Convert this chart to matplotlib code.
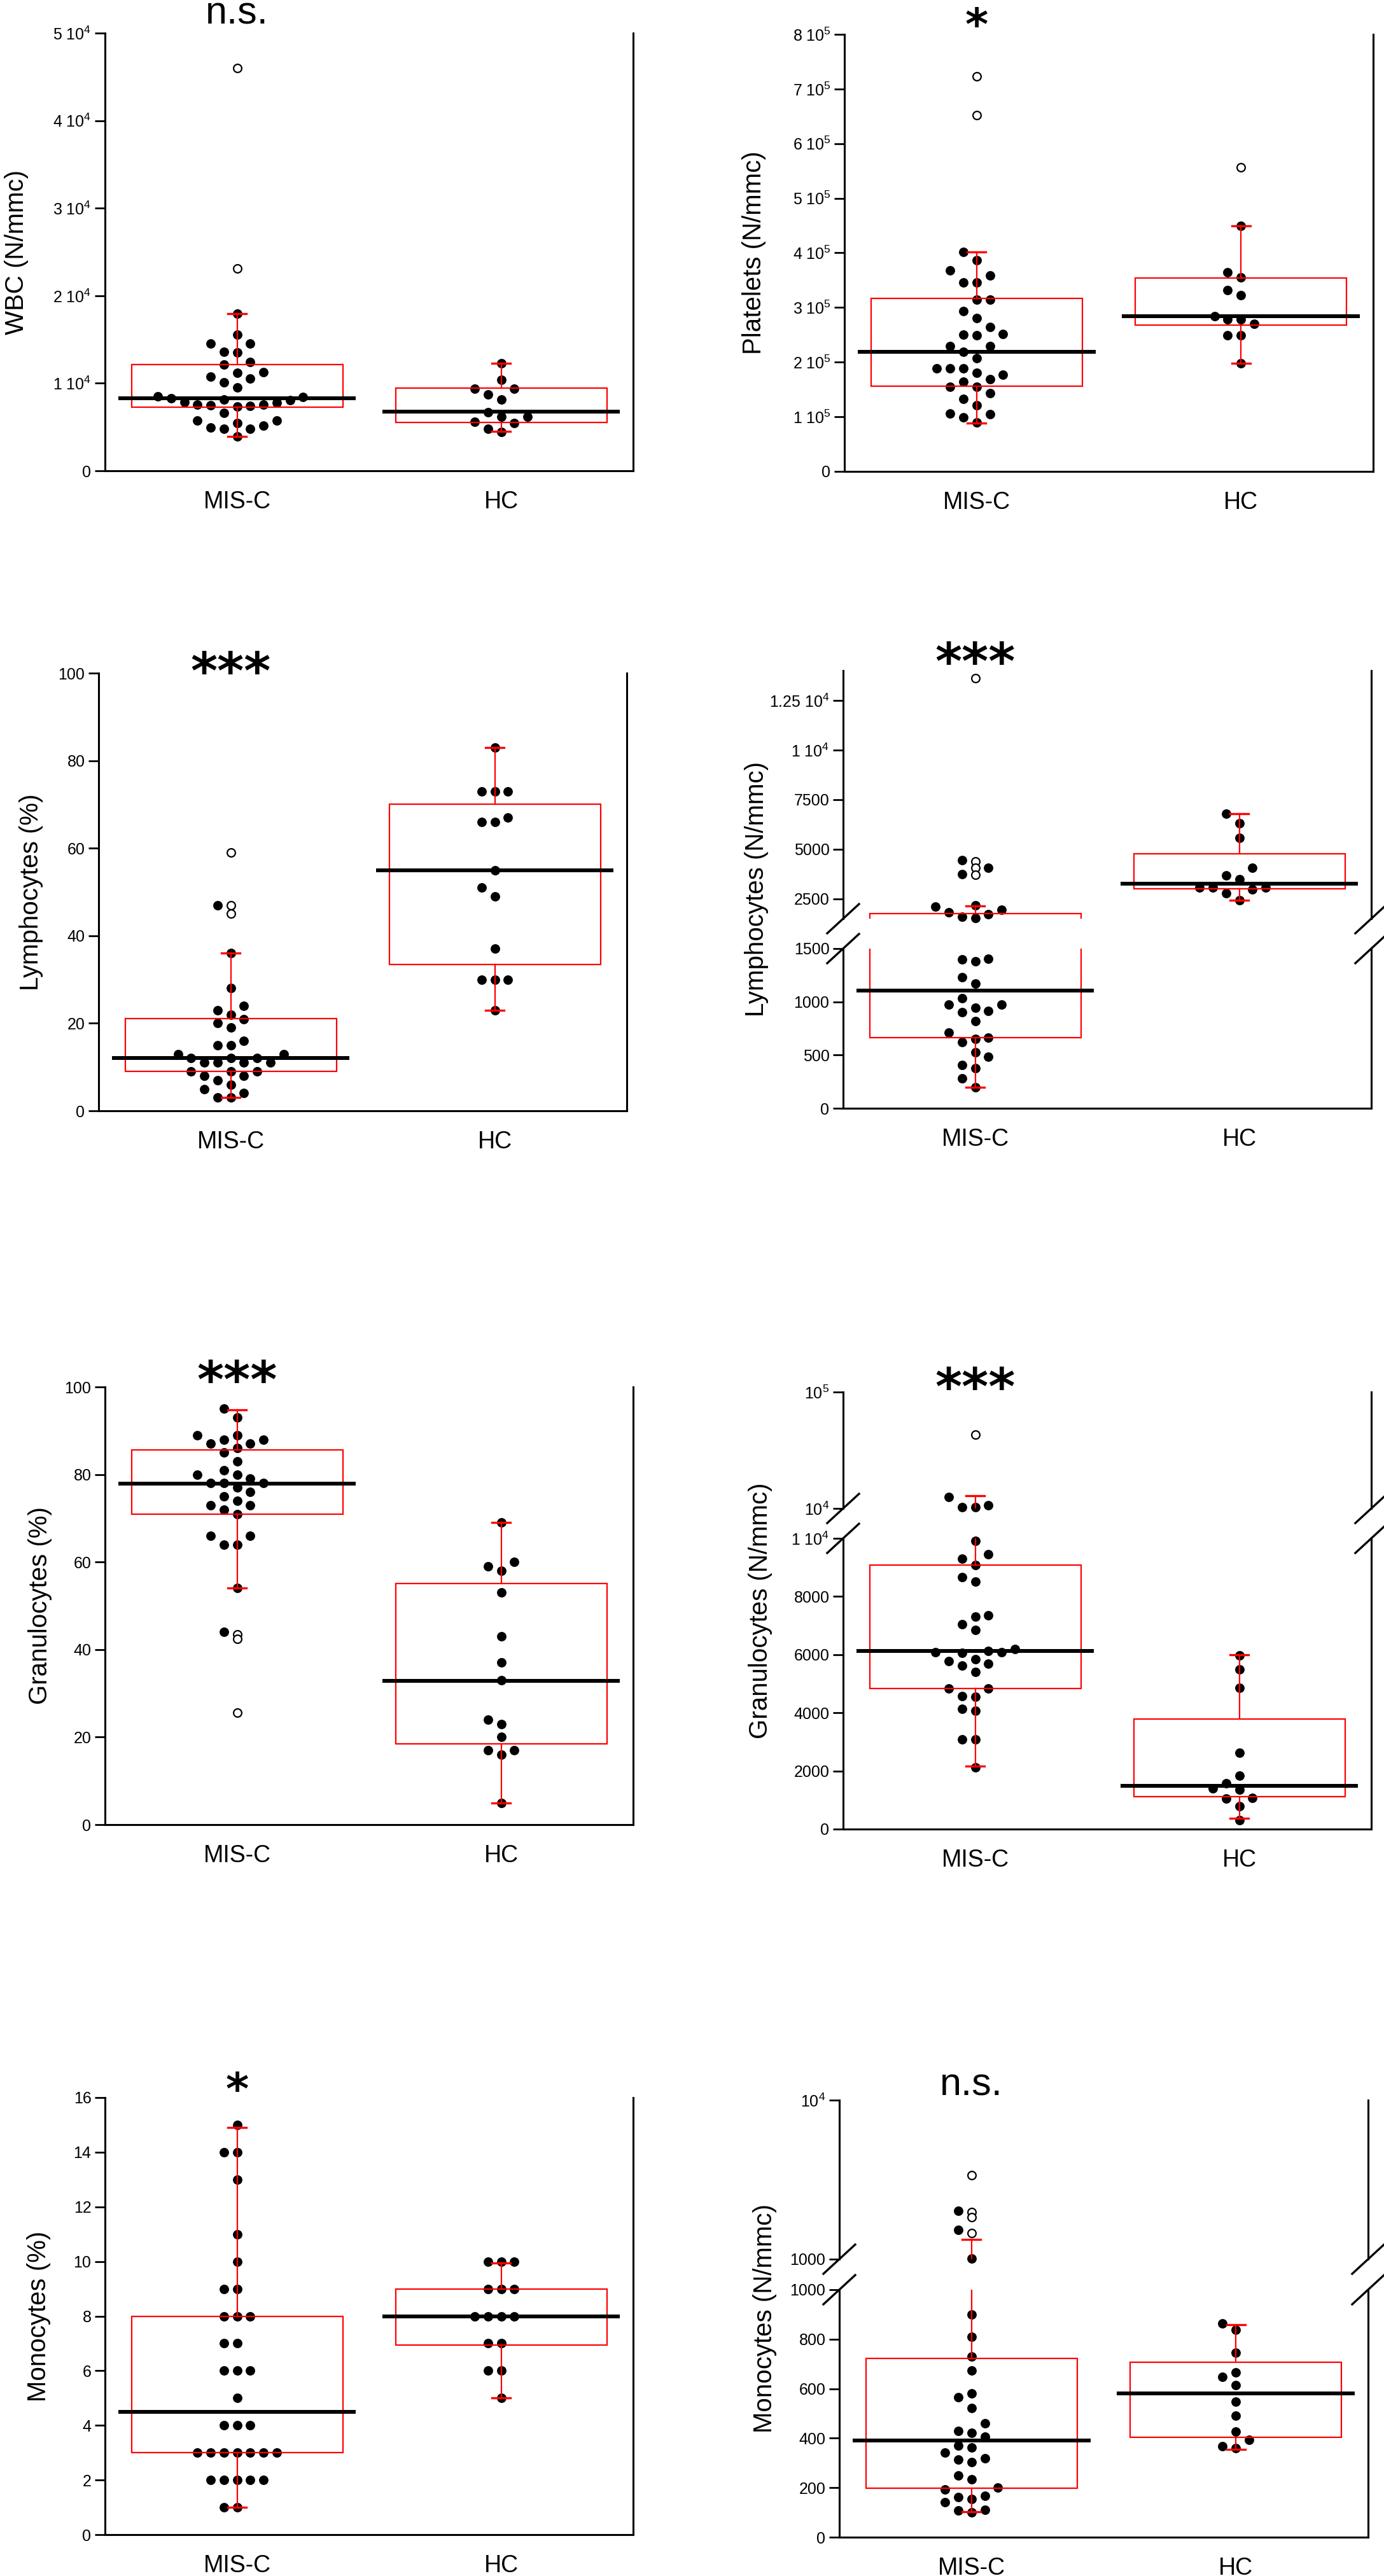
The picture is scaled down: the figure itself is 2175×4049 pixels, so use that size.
import numpy as np
import matplotlib
matplotlib.use("Agg")
import matplotlib.pyplot as plt
from matplotlib.patches import Rectangle
from matplotlib.lines import Line2D
from matplotlib.ticker import NullLocator

plt.rcParams['font.family'] = ['Liberation Sans', 'DejaVu Sans']
plt.rcParams['mathtext.default'] = 'regular'

# ---- data -------------------------------------------------------------
groups = ["MIS-C", "HC"]

# box stats: (q1, median, q3, whisker low, whisker high)
wbc_misc = [17950, 15520, 14550, 14550, 13620, 13500, 12430, 12130, 11190, 11300,
            10560, 10750, 10070, 9510, 8510, 8320, 8060, 7800, 7575, 7430, 7310,
            7500, 7575, 7840, 8170, 8400, 6640, 5750, 5450, 4960, 4780, 3960,
            4780, 5150, 5710]
wbc_misc_out = [46000, 23100]
wbc_hc = [12310, 10370, 9370, 9370, 8690, 8130, 6720, 6190, 6160, 5630, 5450,
          4780, 4400]
wbc_hc_out = []
wbc_misc_box = (7240, 8320, 12130, 3960, 17950)
wbc_hc_box = (5520, 6750, 9440, 4500, 12300)

plt_misc = [401200, 386900, 367800, 358200, 346300, 346300, 314600, 314600, 293700,
            280600, 263900, 250700, 249600, 251900, 229900, 229900, 219100, 207800,
            188100, 188100, 188100, 180300, 177300, 169000, 155200, 155200, 164200,
            143300, 133100, 120600, 105700, 104500, 99100, 89600]
plt_misc_out = [723600, 652000]
plt_hc = [449000, 364200, 355200, 331300, 322400, 283600, 278800, 278800, 270400,
          249600, 249600, 198200]
plt_hc_out = [557000]
plt_misc_box = (156400, 219100, 316400, 89000, 401200)
plt_hc_box = (268000, 283600, 354000, 198000, 449000)

lyp_misc = [47, 36, 28, 24, 23, 22, 21, 20, 19, 16, 15, 15, 13, 13, 12, 12, 12, 11,
            11, 11, 11, 9, 9, 9, 8, 8, 7, 6, 5, 4, 3, 3]
lyp_misc_out = [59, 47, 45]
lyp_hc = [83, 73, 73, 73, 67, 66, 66, 55, 51, 49, 37, 30, 30, 30, 23]
lyp_hc_out = []
lyp_misc_box = (9, 12, 21.1, 3, 36)
lyp_hc_box = (33.5, 55, 70, 23, 83)

lyn_misc = [4444, 3759, 4074, 2093, 1944, 2185, 1722, 1537, 1593, 1815, 1404, 1397,
            1380, 1232, 1173, 1036, 974, 912, 905, 946, 974, 819, 709, 654, 664,
            623, 526, 482, 406, 379, 279, 200]
lyn_misc_out = [13600, 4400, 4050, 3700]
lyn_hc = [6778, 6296, 5556, 4074, 3481, 3667, 3056, 3056, 3056, 2963, 2778, 2426]
lyn_hc_out = []
lyn_misc_box = (664, 1105, 1759, 200, 2150)
lyn_hc_box = (3019, 3259, 4778, 2426, 6778)

grp_misc = [95, 93, 89, 89, 88, 88, 87, 87, 86, 85, 83, 81, 80, 80, 79, 78, 78, 78,
            77, 76, 75, 74, 73, 73, 72, 71, 66, 66, 64, 64, 54, 44]
grp_misc_out = [43.5, 42.5, 25.6]
grp_hc = [69, 60, 59, 58, 53, 43, 37, 33, 24, 23, 20, 17, 17, 16, 5]
grp_hc_out = []
grp_misc_box = (70.9, 77.9, 85.6, 54, 94.7)
grp_hc_box = (18.4, 32.9, 55.1, 5, 69)

grn_misc = [12620, 10675, 10295, 10295, 9921, 9453, 9289, 9074, 8657, 8505, 7305,
            7356, 7052, 6850, 6193, 6130, 6066, 6092, 6092, 5839, 5687, 5624, 5776,
            5396, 4840, 4840, 4550, 4575, 4069, 4133, 3096, 3096, 2123]
grn_misc_out = [43050]
grn_hc = [5977, 5497, 4866, 2629, 1833, 1580, 1365, 1390, 1049, 1074, 796, 316]
grn_hc_out = []
grn_misc_box = (4840, 6116, 9074, 2174, 12800)
grn_hc_box = (1112, 1491, 3791, 380, 6000)

mop_misc = [15, 14, 14, 13, 11, 10, 9, 9, 8, 8, 8, 7, 7, 6, 6, 6, 5, 4, 4, 4,
            3, 3, 3, 3, 3, 3, 3, 2, 2, 2, 2, 2, 1, 1]
mop_misc_out = []
mop_hc = [10, 10, 10, 9, 9, 9, 8, 8, 8, 8, 7, 7, 6, 6, 5]
mop_hc_out = []
mop_misc_box = (3, 4.5, 8, 1, 14.9)
mop_hc_box = (6.95, 8, 9, 5, 9.95)

mon_misc = [2015, 1528, 1010, 901, 810, 729, 674, 582, 566, 523, 459, 422, 430, 407,
            370, 363, 341, 319, 304, 314, 249, 233, 200, 193, 163, 141, 153, 167,
            108, 101, 111]
mon_misc_out = [3388, 1982, 1832, 1465]
mon_hc = [864, 837, 745, 667, 649, 615, 548, 492, 427, 393, 367, 360]
mon_hc_out = []
mon_misc_box = (197, 390, 723, 104, 1331)
mon_hc_box = (403, 582, 707, 356, 859)

# ---- drawing helpers ---------------------------------------------------
W, H = 2175, 4049
RED = '#ff0000'
fig = plt.figure(figsize=(W / 100, H / 100), dpi=100)


def add_ax(left, right, top, bottom):
    return fig.add_axes([left / W, 1 - bottom / H, (right - left) / W, (bottom - top) / H])


def style(ax, bottom=True):
    ax.set_xlim(0.5, 2.5)
    ax.spines['top'].set_visible(False)
    for s in ('left', 'right', 'bottom'):
        ax.spines[s].set_linewidth(2.2)
    if not bottom:
        ax.spines['bottom'].set_visible(False)
    ax.tick_params(axis='y', direction='out', length=11.5, width=2, labelsize=18, pad=4)
    ax.tick_params(axis='x', length=0, labelsize=27, pad=22)
    if bottom:
        ax.set_xticks([1, 2])
        ax.set_xticklabels(groups)
    else:
        ax.set_xticks([])


def swarm(filled, opened, ypix, min_dy=20):
    # outliers sit on the centre line, filled dots take the nearest free column
    placed = [(0, ypix(v)) for v in opened]
    cols = [0] * len(filled)
    for i in np.argsort(filled, kind='stable'):
        y = ypix(filled[i])
        k = 0
        while True:
            c = ((k + 1) // 2) * (-1 if k % 2 else 1)
            if all(abs(y - py) >= min_dy for pc, py in placed if pc == c):
                break
            k += 1
        placed.append((c, y))
        cols[i] = c
    return cols


def draw_group(axes, which, x0, filled, opened, box):
    q1, med, q3, lo, hi = box
    for ax in axes:
        ax.add_patch(Rectangle((x0 - 0.4, q1), 0.8, q3 - q1, fill=False,
                               ec=RED, lw=1.6, zorder=4))
        ax.plot([x0, x0], [q3, hi], color=RED, lw=1.6, zorder=4)
        ax.plot([x0, x0], [lo, q1], color=RED, lw=1.6, zorder=4)
        for v in (lo, hi):
            ax.plot([x0 - 0.035, x0 + 0.035], [v, v], color=RED, lw=2.4, zorder=4)
        ax.plot([x0 - 0.45, x0 + 0.45], [med, med], color='k', lw=4.3,
                zorder=5, solid_capstyle='butt')
    ypix = lambda v: which(v).transData.transform((x0, v))[1]
    cols = swarm(filled, opened, ypix)
    for v, c in zip(filled, cols):
        which(v).scatter(x0 + c * 0.05, v, s=115, color='k', lw=0, zorder=3,
                         clip_on=False)
    for v in opened:
        which(v).scatter(x0, v, s=85, facecolor='white', edgecolor='k', lw=1.6,
                         zorder=3, clip_on=False)


def sci(m, e):
    return f"{m} $10^{{{e}}}$"


def ylabel(text, cx, top, bottom):
    fig.text(cx / W, 1 - (top + bottom) / 2 / H, text, rotation=90,
             ha='center', va='center', fontsize=29)


def signif(text, left, right, ypx, star):
    xc = left + (right - left) / 4
    if star:
        size = 58 if len(text) > 1 else 50
        base = ypx + 0.555 * size / 72 * 100
        fig.text(xc / W, 1 - base / H, text, ha='center', va='baseline',
                 fontsize=size, fontweight='bold', family='DejaVu Sans')
    else:
        fig.text(xc / W, 1 - ypx / H, text, ha='center', va='baseline', fontsize=44)


def break_marks(left, right, hi_bottom, lo_top):
    for x in (left, right):
        for y in (hi_bottom, lo_top):
            fig.add_artist(Line2D([(x - 25) / W, (x + 25) / W],
                                  [1 - (y + 23) / H, 1 - (y - 23) / H],
                                  color='k', lw=2.4, transform=fig.transFigure))


def simple_panel(pos, ylim, ticks, labels, data, ytext, lab_x, sig, sig_y, star):
    left, right, top, bottom = pos
    ax = add_ax(*pos)
    style(ax)
    ax.set_ylim(*ylim)
    ax.set_yticks(ticks)
    ax.set_yticklabels(labels)
    which = lambda v: ax
    for x0, (f, o, b) in zip((1, 2), data):
        draw_group([ax], which, x0, f, o, b)
    ylabel(ytext, lab_x, top, bottom)
    signif(sig, left, right, sig_y, star)


def broken_panel(pos, hi_bottom, lo_top, split, lo_lim, lo_ticks, lo_labels,
                 hi_lim, hi_ticks, hi_labels, hi_log, data, ytext, lab_x,
                 sig, sig_y, star):
    left, right, top, bottom = pos
    ax_hi = add_ax(left, right, top, hi_bottom)
    ax_lo = add_ax(left, right, lo_top, bottom)
    style(ax_lo)
    style(ax_hi, bottom=False)
    if hi_log:
        ax_hi.set_yscale('log')
    ax_hi.set_ylim(*hi_lim)
    ax_lo.set_ylim(*lo_lim)
    ax_hi.set_yticks(hi_ticks)
    ax_hi.set_yticklabels(hi_labels)
    ax_hi.yaxis.set_minor_locator(NullLocator())
    ax_lo.set_yticks(lo_ticks)
    ax_lo.set_yticklabels(lo_labels)
    which = lambda v: ax_hi if v > split else ax_lo
    for x0, (f, o, b) in zip((1, 2), data):
        draw_group([ax_lo, ax_hi], which, x0, f, o, b)
    break_marks(left, right, hi_bottom, lo_top)
    ylabel(ytext, lab_x, top, bottom)
    signif(sig, left, right, sig_y, star)


# ---- panels ------------------------------------------------------------
simple_panel((165, 995, 52, 740), (0, 50000), np.arange(0, 50001, 10000),
             ["0"] + [sci(i, 4) for i in range(1, 6)],
             [(wbc_misc, wbc_misc_out, wbc_misc_box), (wbc_hc, wbc_hc_out, wbc_hc_box)],
             "WBC (N/mmc)", 26, "n.s.", 38, False)

simple_panel((1327, 2158, 54, 741), (0, 800000), np.arange(0, 800001, 100000),
             ["0"] + [sci(i, 5) for i in range(1, 9)],
             [(plt_misc, plt_misc_out, plt_misc_box), (plt_hc, plt_hc_out, plt_hc_box)],
             "Platelets (N/mmc)", 1185, "*", 23, True)

simple_panel((155, 985, 1058, 1746), (0, 100), np.arange(0, 101, 20),
             [str(v) for v in range(0, 101, 20)],
             [(lyp_misc, lyp_misc_out, lyp_misc_box), (lyp_hc, lyp_hc_out, lyp_hc_box)],
             "Lymphocytes (%)", 49, "***", 1037, True)

broken_panel((1325, 2155, 1054, 1742), 1444, 1491, 1500,
             (0, 1500), [0, 500, 1000, 1500], ["0", "500", "1000", "1500"],
             (1500, 14000), [2500, 5000, 7500, 10000, 12500],
             ["2500", "5000", "7500", sci(1, 4), sci(1.25, 4)], False,
             [(lyn_misc, lyn_misc_out, lyn_misc_box), (lyn_hc, lyn_hc_out, lyn_hc_box)],
             "Lymphocytes (N/mmc)", 1189, "***", 1022, True)

simple_panel((165, 995, 2180, 2868), (0, 100), np.arange(0, 101, 20),
             [str(v) for v in range(0, 101, 20)],
             [(grp_misc, grp_misc_out, grp_misc_box), (grp_hc, grp_hc_out, grp_hc_box)],
             "Granulocytes (%)", 63, "***", 2151, True)

broken_panel((1325, 2155, 2188, 2875), 2371, 2418, 10000,
             (0, 10000), np.arange(0, 10001, 2000),
             ["0", "2000", "4000", "6000", "8000", sci(1, 4)],
             (1e4, 1e5), [1e4, 1e5], ["$10^{4}$", "$10^{5}$"], True,
             [(grn_misc, grn_misc_out, grn_misc_box), (grn_hc, grn_hc_out, grn_hc_box)],
             "Granulocytes (N/mmc)", 1195, "***", 2162, True)

simple_panel((165, 995, 3297, 3984), (0, 16), np.arange(0, 17, 2),
             [str(v) for v in range(0, 17, 2)],
             [(mop_misc, mop_misc_out, mop_misc_box), (mop_hc, mop_hc_out, mop_hc_box)],
             "Monocytes (%)", 61, "*", 3268, True)

broken_panel((1319, 2150, 3301, 3988), 3551, 3599, 1000,
             (0, 1000), np.arange(0, 1001, 200), [str(v) for v in range(0, 1001, 200)],
             (1e3, 1e4), [1e3, 1e4], ["1000", "$10^{4}$"], True,
             [(mon_misc, mon_misc_out, mon_misc_box), (mon_hc, mon_hc_out, mon_hc_box)],
             "Monocytes (N/mmc)", 1202, "n.s.", 3294, False)

fig.savefig("out.png", dpi=100, facecolor='white')
